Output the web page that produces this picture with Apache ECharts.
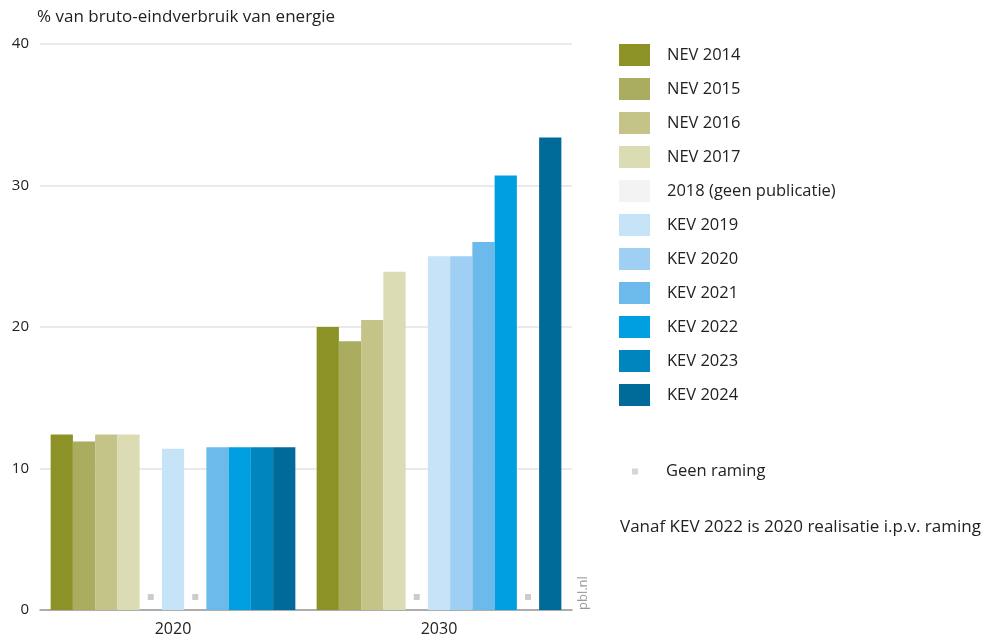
<!DOCTYPE html>
<html>
<head>
<meta charset="utf-8">
<script src="https://cdn.jsdelivr.net/npm/echarts@6/dist/echarts.min.js"></script>
<style>
	html, body { margin: 0; padding: 0; background: #fff; }
	#chart { width: 984px; height: 637px; }
</style>
</head>
<body>
<div id="chart"></div>
<script>
	// categorieen (zichtjaar)
	const years = ['2020', '2030']
	const yTicks = [0, 10, 20, 30, 40]

	// ramingen per publicatie, null = geen raming
	const nev2014 = [12.4, 20.0]
	const nev2015 = [11.9, 19.0]
	const nev2016 = [12.4, 20.5]
	const nev2017 = [12.4, 23.9]
	const geen2018 = [null, null]
	const kev2019 = [11.4, 25.0]
	const kev2020 = [null, 25.0]
	const kev2021 = [11.5, 26.0]
	const kev2022 = [11.5, 30.7]
	const kev2023 = [11.5, null]
	const kev2024 = [11.5, 33.4]

	const seriesNames = ['NEV 2014', 'NEV 2015', 'NEV 2016', 'NEV 2017', '2018 (geen publicatie)',
		'KEV 2019', 'KEV 2020', 'KEV 2021', 'KEV 2022', 'KEV 2023', 'KEV 2024']
	const seriesValues = [nev2014, nev2015, nev2016, nev2017, geen2018,
		kev2019, kev2020, kev2021, kev2022, kev2023, kev2024]
	const colors = ['#8c9226', '#aaac60', '#c4c488', '#dbdbb4', '#f3f3f3',
		'#c7e3f7', '#9fcff2', '#6cbaeb', '#009fe1', '#0085bf', '#006b99']

	const font = 'Open Sans'
	const textColor = '#222'

	let chart = echarts.init(document.getElementById('chart'))

	let series = seriesNames.map((name, i) => ({
		name: name,
		type: 'bar',
		barGap: 0,
		barCategoryGap: '8%',
		itemStyle: { color: colors[i] },
		data: seriesValues[i].map(v => {
			if (v !== null) return v
			// geen raming: klein grijs blokje op de plek van de balk
			return {
				value: 0,
				itemStyle: { color: 'rgba(0,0,0,0)' },
				label: {
					show: true,
					position: 'insideBottom',
					distance: 10,
					formatter: '{s|}',
					rich: { s: { width: 6, height: 6, backgroundColor: '#cccccc' } }
				}
			}
		})
	}))

	// lege serie alleen voor de legenda
	series.push({
		name: 'Geen raming',
		type: 'scatter',
		itemStyle: { color: '#cccccc' },
		data: []
	})

	let option = {
		animation: false,
		textStyle: { fontFamily: font },
		grid: { left: 40, right: 412, top: 44, bottom: 26 },
		legend: [{
			data: seriesNames,
			orient: 'vertical',
			left: 619,
			top: 44,
			padding: 0,
			itemWidth: 31,
			itemHeight: 22,
			itemGap: 12,
			icon: 'rect',
			textStyle: { fontSize: 16.5, color: textColor, fontFamily: font, padding: [0, 0, 0, 12] }
		}, {
			data: ['Geen raming'],
			orient: 'vertical',
			left: 632,
			top: 463,
			padding: 0,
			itemWidth: 6,
			itemHeight: 6,
			icon: 'rect',
			textStyle: { fontSize: 16.5, color: textColor, fontFamily: font, padding: [0, 0, 0, 23] }
		}],
		xAxis: {
			type: 'category',
			data: years,
			axisLine: { lineStyle: { color: '#999', width: 1.5 } },
			axisTick: { show: false },
			axisLabel: { fontSize: 16, color: textColor, margin: 11, fontFamily: font }
		},
		yAxis: {
			type: 'value',
			min: yTicks[0],
			max: yTicks[yTicks.length - 1],
			interval: 10,
			name: '% van bruto-eindverbruik van energie',
			nameLocation: 'end',
			nameGap: 18,
			nameTextStyle: { align: 'left', fontSize: 17, color: textColor, fontFamily: font, padding: [0, 0, 0, -3] },
			axisLine: { show: false },
			axisTick: { show: false },
			axisLabel: { fontSize: 15, color: textColor, margin: 11, fontFamily: font },
			splitLine: { lineStyle: { color: '#e3e3e3', width: 1.5 } }
		},
		graphic: [{
			type: 'text',
			left: 620,
			top: 519,
			style: { text: 'Vanaf KEV 2022 is 2020 realisatie i.p.v. raming', fontSize: 17, fill: textColor, fontFamily: font }
		}, {
			type: 'text',
			x: 577,
			y: 610,
			rotation: Math.PI / 2,
			style: { text: 'pbl.nl', fontSize: 13, fill: '#999', fontFamily: font }
		}],
		series: series
	}

	chart.setOption(option)
</script>
</body>
</html>
